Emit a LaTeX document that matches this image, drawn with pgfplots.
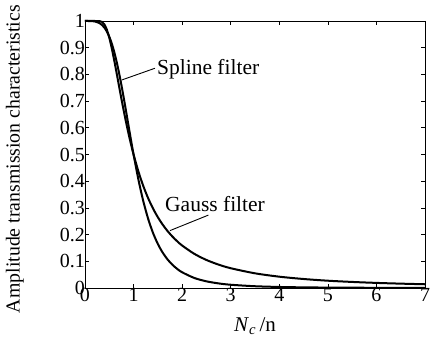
\documentclass[border=0pt]{standalone}
\usepackage{fontspec}
\setmainfont{Liberation Serif}
\usepackage{pgfplots}
\pgfplotsset{compat=1.18}
\usetikzlibrary{calc}
\begin{document}
\begin{tikzpicture}
\begin{axis}[name=ax,
  scale only axis, width=340bp, height=267bp,
  xmin=0, xmax=7, ymin=0, ymax=1,
  xtick={0,1,...,7},
  ytick={0,0.1,0.2,0.3,0.4,0.5,0.6,0.7,0.8,0.9,1},
  yticklabels={0,0.1,0.2,0.3,0.4,0.5,0.6,0.7,0.8,0.9,1},
  tick align=inside, major tick length=4bp,
  tick style={line width=0.6bp, black},
  axis line style={line width=0.8bp},
  /pgf/number format/assume math mode=true,
  tick label style={font=\fontsize{20bp}{22bp}\selectfont},
  yticklabel style={xshift=3.5bp},
  xticklabel style={yshift=3bp},
  xlabel={\textit{N}\textsubscript{\textit{c}}\,/n},
  xlabel style={font=\fontsize{21bp}{23bp}\selectfont, at={(rel axis cs:0.5,-0.142)}, anchor=center},
  ylabel={Amplitude transmission characteristics},
  ylabel style={font=\fontsize{19.8bp}{22bp}\selectfont, at={(rel axis cs:-0.206,0.483)}, anchor=center},
  clip=false,
]
% Spline filter
\addplot[line width=2bp, smooth] coordinates {
(0,1) (0.1,0.9999) (0.2,0.9984) (0.3,0.9920) (0.35,0.9852) (0.4,0.9750) (0.45,0.9606)
(0.5,0.9412) (0.55,0.9162) (0.6,0.8853) (0.65,0.8485) (0.7,0.8064) (0.75,0.7597)
(0.8,0.7094) (0.85,0.6570) (0.9,0.6038) (0.95,0.5511) (1,0.5) (1.1,0.4058)
(1.2,0.3254) (1.3,0.2593) (1.4,0.2065) (1.5,0.1649) (1.6,0.1324) (1.7,0.1069)
(1.8,0.0870) (1.9,0.0713) (2,0.0588) (2.25,0.0376) (2.5,0.0250) (2.75,0.0172)
(3,0.0122) (3.5,0.0066) (4,0.0039) (4.5,0.0024) (5,0.0016) (5.5,0.0011)
(6,0.0008) (6.5,0.0006) (7,0.0004)};
% Gauss filter
\addplot[line width=2bp, smooth] coordinates {
(0,1) (0.1,1) (0.2,1) (0.3,0.9995) (0.35,0.9965) (0.4,0.9869) (0.45,0.9674)
(0.5,0.9375) (0.55,0.8989) (0.6,0.8542) (0.65,0.8062) (0.7,0.7570) (0.75,0.7084)
(0.8,0.6614) (0.85,0.6169) (0.9,0.5750) (0.95,0.5361) (1,0.5) (1.1,0.4361)
(1.2,0.3820) (1.3,0.3364) (1.4,0.2979) (1.5,0.2651) (1.6,0.2372) (1.7,0.2132)
(1.8,0.1926) (1.9,0.1747) (2,0.1591) (2.25,0.1280) (2.5,0.1050) (2.75,0.0876)
(3,0.0741) (3.5,0.0550) (4,0.0424) (4.5,0.0337) (5,0.0273) (5.5,0.0227)
(6,0.0191) (6.5,0.0163) (7,0.0140)};
\draw[line width=0.9bp] (axis cs:0.756,0.779) -- (axis cs:1.44,0.823);
\node[anchor=base west, inner sep=0pt, font=\fontsize{21.5bp}{23bp}\selectfont] at (axis cs:1.482,0.798) {Spline filter};
\draw[line width=0.9bp] (axis cs:1.75,0.215) -- (axis cs:2.54,0.273);
\node[anchor=base west, inner sep=0pt, font=\fontsize{21.5bp}{23bp}\selectfont] at (axis cs:1.647,0.286) {Gauss filter};
\end{axis}
\pgfresetboundingbox
\path[use as bounding box] ($(ax.south west)+(-85bp,-52bp)$) rectangle ($(ax.north east)+(8bp,21bp)$);
\end{tikzpicture}
\end{document}
